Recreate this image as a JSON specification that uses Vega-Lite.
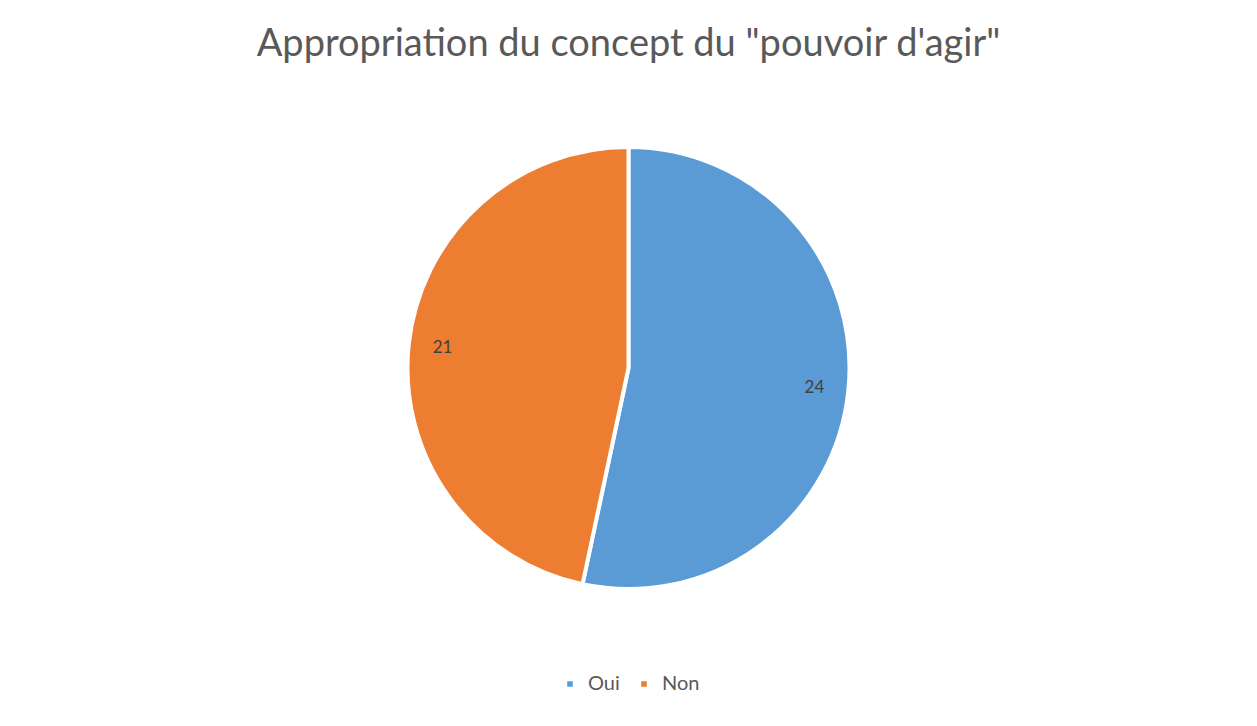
{
  "$schema": "https://vega.github.io/schema/vega-lite/v6.json",
  "autosize": {"type": "none"},
  "width": 1257,
  "height": 556,
  "padding": {"left": 0, "right": 0, "top": 90, "bottom": 80},
  "background": "white",
  "title": {
    "text": "Appropriation du concept du \"pouvoir d'agir\"",
    "font": "Lato",
    "fontSize": 38,
    "fontWeight": "normal",
    "color": "#595959",
    "anchor": "middle",
    "baseline": "alphabetic",
    "offset": -4
  },
  "data": {
    "values": [
      {"reponse": "Oui", "n": 24, "k": 1},
      {"reponse": "Non", "n": 21, "k": 2}
    ]
  },
  "encoding": {
    "theta": {"field": "n", "type": "quantitative", "stack": true},
    "order": {"field": "k", "type": "quantitative"},
    "color": {
      "field": "reponse",
      "type": "nominal",
      "scale": {"domain": ["Oui", "Non"], "range": ["#5B9BD5", "#ED7D31"]},
      "legend": {
        "title": null,
        "orient": "none",
        "direction": "horizontal",
        "legendX": 560,
        "legendY": 584,
        "symbolType": "square",
        "symbolSize": 50,
        "labelFont": "Lato",
        "labelFontSize": 20,
        "labelColor": "#595959",
        "columnPadding": 14,
        "labelOffset": 8
      }
    }
  },
  "layer": [
    {
      "mark": {"type": "arc", "outerRadius": 221, "stroke": "white", "strokeWidth": 4}
    },
    {
      "mark": {"type": "text", "radius": 187, "font": "Lato", "fontSize": 17},
      "encoding": {
        "text": {"field": "n", "type": "quantitative"},
        "color": {"value": "#404040"}
      }
    }
  ]
}
